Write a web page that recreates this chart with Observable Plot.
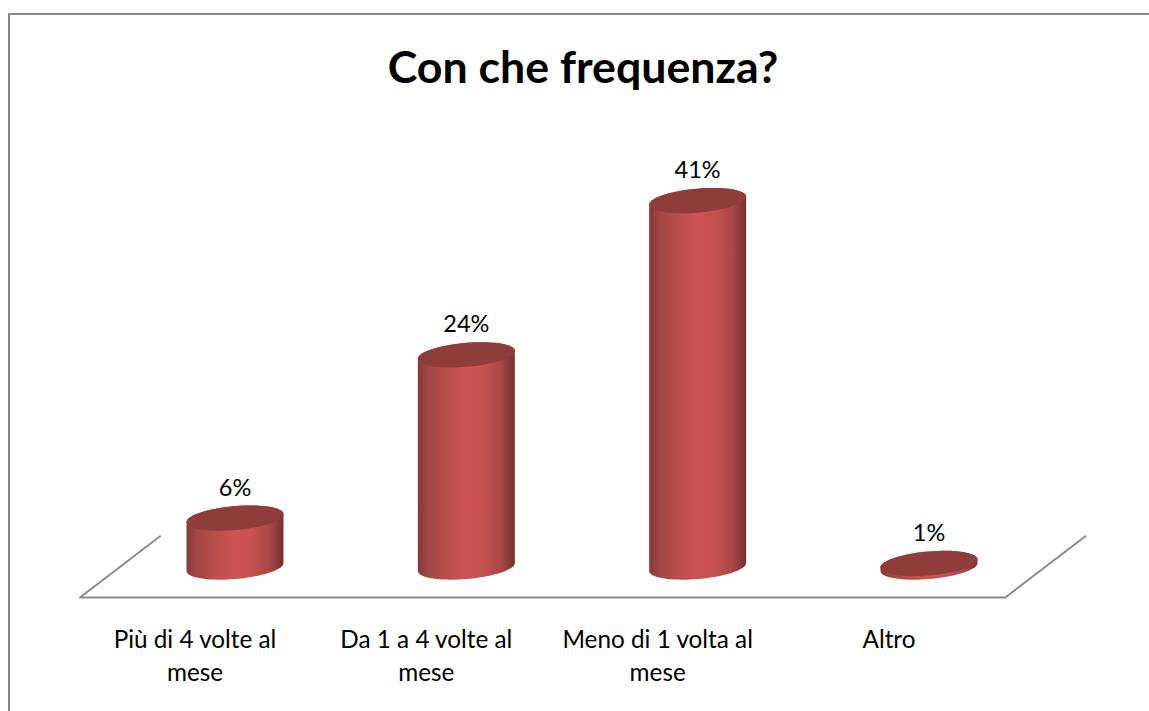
<!DOCTYPE html>
<html>
<head>
<meta charset="utf-8">
<script src="https://cdn.jsdelivr.net/npm/d3@7"></script>
<script src="https://cdn.jsdelivr.net/npm/@observablehq/plot@0.6"></script>
<style>
  html, body { margin: 0; padding: 0; background: #fff; overflow: hidden; }
  #page { position: relative; width: 1149px; height: 711px; overflow: hidden; }
  #page::before { content: ""; position: absolute; left: 8px; top: 13px; right: -4px; bottom: -4px;
    border-left: 2px solid #888; border-top: 2px solid #888; box-sizing: border-box; }
  #title { position: relative; height: 104px; box-sizing: border-box; padding: 40px 0 0 17px; text-align: center;
    font: bold 44.7px/52px Lato, sans-serif; color: #000; }
  #plot { position: relative; }
  svg { display: block; }
</style>
</head>
<body>
<div id="page">
  <div id="title">Con che frequenza?</div>
  <div id="plot"></div>
</div>
<script>
const categories = ["Più di 4 volte al\nmese", "Da 1 a 4 volte al\nmese", "Meno di 1 volta al\nmese", "Altro"];
const values = [6, 24, 41, 1];
const valueLabels = ["6%", "24%", "41%", "1%"];

const titleH = 104, svgH = 711 - titleH;
const pxX = 231.33;            // px per category
const pxY = 9.07;              // px per percentage point
const rx = 48.5 / pxX, ry = 12 / pxY, tilt = 4 / pxY;
const base = 0.6;

const thetas = d3.range(0, 73).map(i => i * Math.PI / 36);
const ell = (i, v, t) => ({i, x: i + rx * Math.cos(t), y: v + ry * Math.sin(t) + tilt * Math.cos(t)});
const tops = values.flatMap((v, i) => thetas.map(t => ell(i, v, t)));
const sides = values.flatMap((v, i) => [
  ...thetas.filter(t => t <= Math.PI).map(t => ell(i, v, t)),
  ...thetas.filter(t => t >= Math.PI).map(t => ell(i, base, t))
]);
const floorFront = -2.75, floorBack = 4, xL = -0.67, xR = 3.33, depth = 0.346;
const floor = [
  {x: xL + depth, y: floorBack}, {x: xL, y: floorFront}, {x: xR, y: floorFront}, {x: xR + depth, y: floorBack}
];
const rows = values.map((v, i) => ({i, v, label: valueLabels[i], cat: categories[i]}));

const defs = () => {
  const s = d3.create("svg:g");
  const g = s.append("defs").append("linearGradient").attr("id", "cyl").attr("x1", 0).attr("x2", 1).attr("y1", 0).attr("y2", 0);
  [[0, "#843a39"], [0.1, "#a04644"], [0.3, "#bb4e4c"], [0.5, "#cb5451"], [0.66, "#c75250"], [0.86, "#a84745"], [1, "#733230"]]
    .forEach(([o, c]) => g.append("stop").attr("offset", o).attr("stop-color", c));
  return s.node();
};

const chart = Plot.plot({
  width: 1149,
  height: svgH,
  margin: 0,
  style: {background: "transparent"},
  x: {type: "linear", domain: [0, 3], range: [234.5, 234.5 + 3 * pxX], axis: null},
  y: {type: "linear", domain: [0, 41], range: [572 - titleH, 572 - titleH - 41 * pxY], axis: null},
  marks: [
    defs,
    Plot.line(floor, {x: "x", y: "y", stroke: "#8c8c8c", strokeWidth: 2, curve: "linear"}),
    Plot.line(sides, {x: "x", y: "y", z: "i", fill: "url(#cyl)", stroke: "none", curve: "linear"}),
    Plot.line(tops, {x: "x", y: "y", z: "i", fill: "#8e3d3a", stroke: "none", curve: "linear"}),
    Plot.text(rows, {x: "i", y: "v", text: "label", dy: -30, fontSize: 23.5, fontFamily: "Lato, sans-serif", fill: "#000"}),
    Plot.text(rows, {x: "i", y: floorFront, text: "cat", dx: -40, dy: 28, lineAnchor: "top", lineHeight: 1.33, textAnchor: "middle",
      fontSize: 24.3, fontFamily: "Lato, sans-serif", fill: "#000"})
  ]
});
document.getElementById("plot").appendChild(chart);
</script>
</body>
</html>
